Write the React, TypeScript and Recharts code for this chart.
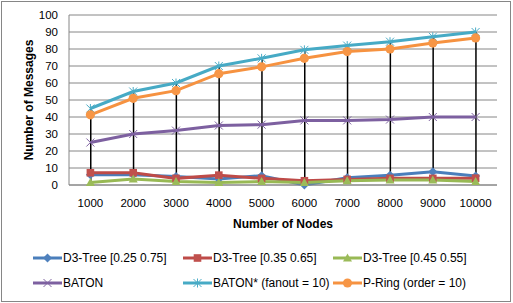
import React from 'react';
import { ComposedChart, Line, Bar, XAxis, YAxis, CartesianGrid, Label } from 'recharts';

const nodes = [1000, 2000, 3000, 4000, 5000, 6000, 7000, 8000, 9000, 10000];
const d3Tree25 = [6, 6, 5, 3.5, 5.5, 0, 4.3, 5.8, 7.8, 5.3];
const d3Tree35 = [7.2, 7.2, 3.9, 5.8, 3.9, 2.5, 3.3, 3.9, 3.9, 4];
const d3Tree45 = [1.5, 3.5, 2, 1.5, 2, 1.4, 2.5, 2.9, 2.9, 2];
const baton = [25, 30, 32, 35, 35.5, 38, 38, 38.5, 40, 40];
const batonStar = [45, 55, 60, 70, 74.5, 79.5, 82, 84.3, 87.2, 90];
const pRing = [41.3, 51, 55.5, 65.5, 69.5, 74.5, 78.5, 80, 83.5, 86.5];
const yTicks = [0, 10, 20, 30, 40, 50, 60, 70, 80, 90, 100];

type Shape = 'diamond' | 'square' | 'triangle' | 'x' | 'asterisk' | 'circle';
interface Series { key: string; name: string; values: number[]; color: string; mcolor: string; shape: Shape }

const series: Series[] = [
  { key: 'd3a', name: 'D3-Tree [0.25 0.75]', values: d3Tree25, color: '#4A7EBB', mcolor: '#4F81BD', shape: 'diamond' },
  { key: 'd3b', name: 'D3-Tree [0.35 0.65]', values: d3Tree35, color: '#BE4B48', mcolor: '#C0504D', shape: 'square' },
  { key: 'd3c', name: 'D3-Tree [0.45 0.55]', values: d3Tree45, color: '#98B954', mcolor: '#9BBB59', shape: 'triangle' },
  { key: 'baton', name: 'BATON', values: baton, color: '#7D60A0', mcolor: '#8064A2', shape: 'x' },
  { key: 'batonStar', name: 'BATON* (fanout = 10)', values: batonStar, color: '#46AAC5', mcolor: '#4BACC6', shape: 'asterisk' },
  { key: 'pring', name: 'P-Ring (order = 10)', values: pRing, color: '#F69240', mcolor: '#F79646', shape: 'circle' },
];

const data = nodes.map((n, i) => {
  const row: any = { node: String(n) };
  const vals: number[] = [];
  series.forEach((s) => {
    row[s.key] = s.values[i];
    vals.push(s.values[i]);
  });
  row.hl = [Math.min(...vals), Math.max(...vals)];
  return row;
});

function Marker({ shape, color, cx, cy }: { shape: Shape; color: string; cx: number; cy: number }) {
  if (cx == null || cy == null) return null;
  switch (shape) {
    case 'diamond':
      return <polygon points={`${cx},${cy - 4.5} ${cx + 4.5},${cy} ${cx},${cy + 4.5} ${cx - 4.5},${cy}`} fill={color} />;
    case 'square':
      return <rect x={cx - 3.8} y={cy - 3.8} width={7.6} height={7.6} fill={color} />;
    case 'triangle':
      return <polygon points={`${cx},${cy - 4.5} ${cx + 4.5},${cy + 3.5} ${cx - 4.5},${cy + 3.5}`} fill={color} />;
    case 'x':
      return (
        <g stroke={color} strokeWidth={1}>
          <line x1={cx - 4} y1={cy - 4} x2={cx + 4} y2={cy + 4} />
          <line x1={cx - 4} y1={cy + 4} x2={cx + 4} y2={cy - 4} />
        </g>
      );
    case 'asterisk':
      return (
        <g stroke={color} strokeWidth={1}>
          <line x1={cx - 4} y1={cy - 4} x2={cx + 4} y2={cy + 4} />
          <line x1={cx - 4} y1={cy + 4} x2={cx + 4} y2={cy - 4} />
          <line x1={cx} y1={cy - 4.5} x2={cx} y2={cy + 4.5} />
        </g>
      );
    case 'circle':
    default:
      return <circle cx={cx} cy={cy} r={4.6} fill={color} />;
  }
}

const FONT = '"Liberation Sans", Arial, sans-serif';

function LegendBox() {
  const cols = [33, 183, 333];
  const rows = [258, 283];
  return (
    <>
      {series.map((s, i) => {
        const left = cols[i % 3];
        const top = rows[Math.floor(i / 3)];
        return (
          <div
            key={s.key}
            style={{ position: 'absolute', left, top: top - 8, height: 16, display: 'flex', alignItems: 'center', fontFamily: FONT, fontSize: 12, color: '#000', whiteSpace: 'nowrap' }}
          >
            <svg width={29} height={12} style={{ display: 'block' }}>
              <line x1={0} y1={6} x2={29} y2={6} stroke={s.color} strokeWidth={3} />
              <Marker shape={s.shape} color={s.mcolor} cx={14.5} cy={6} />
            </svg>
            <span style={{ marginLeft: 1 }}>{s.name}</span>
          </div>
        );
      })}
    </>
  );
}

export default function App() {
  return (
    <div style={{ position: 'absolute', left: 0, top: 0, width: 513, height: 303, background: '#fff' }}>
      <div style={{ position: 'absolute', left: 1, top: 1, width: 510, height: 301, border: '1px solid #868686', boxSizing: 'border-box' }} />
      <div style={{ position: 'absolute', left: 0, top: 0 }}>
        <ComposedChart width={513} height={303} data={data} margin={{ top: 15, right: 16, left: 0, bottom: 73 }}>
          <CartesianGrid vertical={false} stroke="#868686" />
          <XAxis
            dataKey="node"
            interval={0}
            tickLine={false}
            tickSize={0}
            tickMargin={14}
            height={45}
            axisLine={{ stroke: '#868686' }}
            tick={{ fill: '#000', fontSize: 11.5, fontFamily: FONT }}
          >
            <Label value="Number of Nodes" position="insideBottom" offset={2} style={{ fontWeight: 'bold', fontSize: 12, fontFamily: FONT, fill: '#000' }} />
          </XAxis>
          <YAxis
            type="number"
            domain={[0, 100]}
            ticks={yTicks}
            interval={0}
            tickLine={false}
            tickSize={0}
            tickMargin={11}
            width={69}
            axisLine={{ stroke: '#868686' }}
            tick={{ fill: '#000', fontSize: 11.5, fontFamily: FONT }}
          >
            <Label value="Number of Messages" angle={-90} position="center" dx={-6} style={{ fontWeight: 'bold', fontSize: 12, fontFamily: FONT, fill: '#000', textAnchor: 'middle' }} />
          </YAxis>
          {series.map((s) => (
            <Line
              key={s.key}
              dataKey={s.key}
              name={s.name}
              stroke={s.color}
              strokeWidth={3}
              isAnimationActive={false}
              dot={(p: any) => <Marker key={`${s.key}-${p.index}`} shape={s.shape} color={s.mcolor} cx={p.cx} cy={p.cy} />}
              activeDot={false}
            />
          ))}
          <Bar dataKey="hl" barSize={1.5} fill="#000" isAnimationActive={false} legendType="none" />
        </ComposedChart>
      </div>
      <LegendBox />
    </div>
  );
}
